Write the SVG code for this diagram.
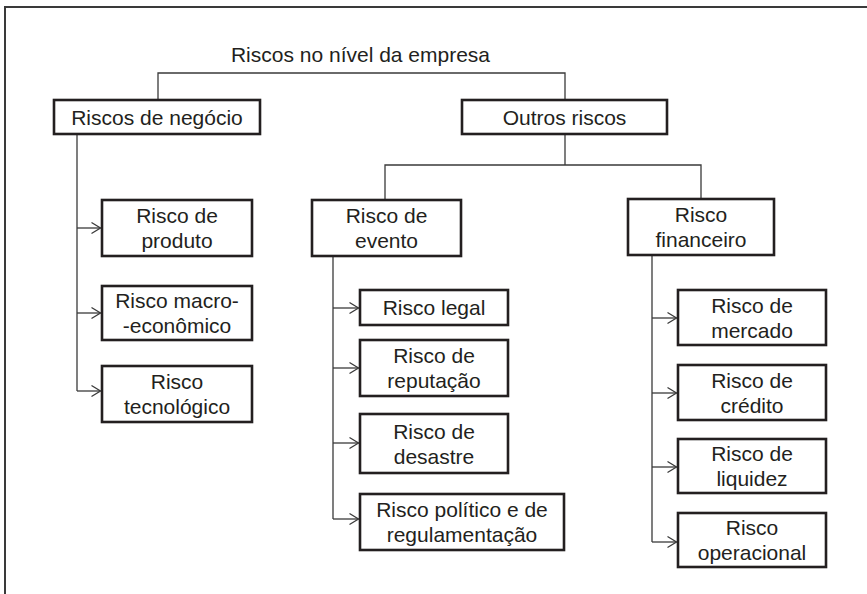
<svg xmlns="http://www.w3.org/2000/svg" width="867" height="594" viewBox="0 0 867 594">
<defs>
<style>
.box{fill:#fff;stroke:#231f20;stroke-width:2.6}
.t{font-family:"Liberation Sans",Arial,sans-serif;font-size:21px;fill:#231f20;text-anchor:middle}
.c{fill:none;stroke:#3a3a3a;stroke-width:1.3}
.frame{fill:none;stroke:#3a3a3a;stroke-width:2}
</style>
<marker id="ah" markerUnits="userSpaceOnUse" markerWidth="12" markerHeight="14" viewBox="-11 -7 12 14" refX="0" refY="0" orient="auto">
<path d="M-9,-5.5 L0,0 L-9,5.5" fill="none" stroke="#3a3a3a" stroke-width="1.3"/>
</marker>
</defs>
<rect width="867" height="594" fill="#fff"/>
<path class="frame" d="M5,594 V7 H867"/>
<text class="t" x="360.5" y="62">Riscos no nível da empresa</text>
<g id="connectors">
<path class="c" d="M158,99 V73 H565 V99"/>
<path class="c" d="M565,134 V165"/>
<path class="c" d="M385,199 V165 H701 V198"/>
<path class="c" d="M77,135 V391"/>
<path class="c" d="M77,228 H100.5" marker-end="url(#ah)"/>
<path class="c" d="M77,313 H100.5" marker-end="url(#ah)"/>
<path class="c" d="M77,391 H100.5" marker-end="url(#ah)"/>
<path class="c" d="M333,257 V519"/>
<path class="c" d="M333,308 H358.5" marker-end="url(#ah)"/>
<path class="c" d="M333,368 H358.5" marker-end="url(#ah)"/>
<path class="c" d="M333,443 H358.5" marker-end="url(#ah)"/>
<path class="c" d="M333,519 H358.5" marker-end="url(#ah)"/>
<path class="c" d="M652,256 V542"/>
<path class="c" d="M652,318 H676.5" marker-end="url(#ah)"/>
<path class="c" d="M652,393 H676.5" marker-end="url(#ah)"/>
<path class="c" d="M652,467 H676.5" marker-end="url(#ah)"/>
<path class="c" d="M652,542 H676.5" marker-end="url(#ah)"/>
</g>
<g id="negocio"><rect class="box" x="54" y="100" width="206" height="34"/><text class="t" x="157" y="124.5">Riscos de negócio</text></g>
<g id="outros"><rect class="box" x="462" y="100" width="205" height="34"/><text class="t" x="564.5" y="124.5">Outros riscos</text></g>
<g id="produto"><rect class="box" x="102" y="200" width="150" height="56"/><text class="t" x="177" y="223">Risco de</text><text class="t" x="177" y="248">produto</text></g>
<g id="macro"><rect class="box" x="102" y="286" width="150" height="54"/><text class="t" x="177" y="308">Risco macro-</text><text class="t" x="177" y="333">-econômico</text></g>
<g id="tecnologico"><rect class="box" x="102" y="366" width="150" height="56"/><text class="t" x="177" y="389">Risco</text><text class="t" x="177" y="414">tecnológico</text></g>
<g id="evento"><rect class="box" x="312" y="200" width="149" height="56"/><text class="t" x="386.5" y="223">Risco de</text><text class="t" x="386.5" y="248">evento</text></g>
<g id="legal"><rect class="box" x="360" y="290" width="148" height="35"/><text class="t" x="434" y="315">Risco legal</text></g>
<g id="reputacao"><rect class="box" x="360" y="340" width="148" height="56"/><text class="t" x="434" y="363">Risco de</text><text class="t" x="434" y="388">reputação</text></g>
<g id="desastre"><rect class="box" x="360" y="414" width="148" height="59"/><text class="t" x="434" y="438.5">Risco de</text><text class="t" x="434" y="463.5">desastre</text></g>
<g id="politico"><rect class="box" x="360" y="494" width="204" height="56"/><text class="t" x="462" y="517">Risco político e de</text><text class="t" x="462" y="542">regulamentação</text></g>
<g id="financeiro"><rect class="box" x="628" y="199" width="146" height="56"/><text class="t" x="701" y="222">Risco</text><text class="t" x="701" y="247">financeiro</text></g>
<g id="mercado"><rect class="box" x="678" y="290" width="148" height="55"/><text class="t" x="752" y="312.5">Risco de</text><text class="t" x="752" y="337.5">mercado</text></g>
<g id="credito"><rect class="box" x="678" y="365" width="148" height="55"/><text class="t" x="752" y="387.5">Risco de</text><text class="t" x="752" y="412.5">crédito</text></g>
<g id="liquidez"><rect class="box" x="678" y="439" width="148" height="54"/><text class="t" x="752" y="461">Risco de</text><text class="t" x="752" y="486">liquidez</text></g>
<g id="operacional"><rect class="box" x="678" y="513" width="148" height="54"/><text class="t" x="752" y="535">Risco</text><text class="t" x="752" y="560">operacional</text></g>
</svg>
